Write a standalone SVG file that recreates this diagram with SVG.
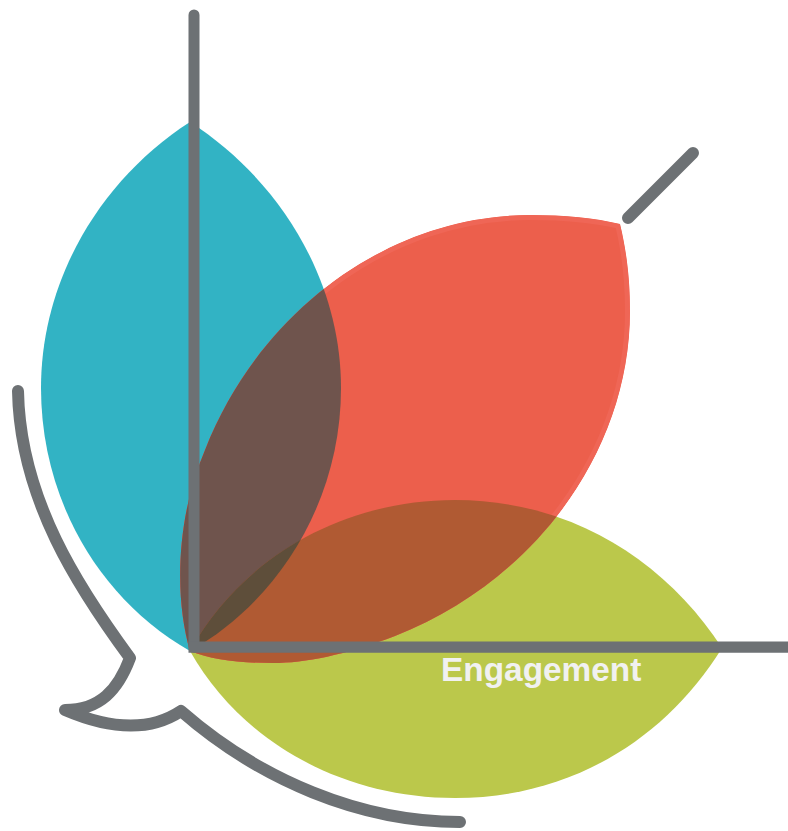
<svg xmlns="http://www.w3.org/2000/svg" width="788" height="831" viewBox="0 0 788 831">
  <style>
    .line { fill: none; stroke: #6d7174; stroke-width: 11; stroke-linecap: round; stroke-linejoin: round; }
    .thick { stroke-width: 12; }
    .label { font-family: "Liberation Sans", Arial, sans-serif; font-weight: 700; font-size: 33.4px; fill: #f1f1f1; }
  </style>
  <defs>
    <path id="p-teal" d="M190,122 C100,180 41,280 41,388 C41,500 100,600 190,651 C280,600 341,500 341,388 C341,280 280,180 190,122 Z"/>
    <path id="p-red" d="M190,651 C175,600 175,520 205,450 C260,310 390,215 530,215 C565,215 595,218 620,224 C630,265 630,300 630,311 C630,451 535,581 395,636 C345,655 305,663 273,663 C240,663 212,660 190,651 Z"/>
    <path id="p-green" d="M190,651 C240,560 340,500 455,500 C570,500 665,560 722,648 C665,740 570,798 455,798 C340,798 240,740 190,651 Z"/>
    <clipPath id="c-red"><use href="#p-red"/></clipPath>
    <clipPath id="c-teal"><use href="#p-teal"/></clipPath>
  </defs>
  <g id="petal-teal"><use href="#p-teal" fill="#32b3c4"/></g>
  <g id="petal-green"><use href="#p-green" fill="#bbc84b"/></g>
  <g id="petal-red" clip-path="url(#c-red)"><use href="#p-red" fill="#ec5f4c" stroke="#ef6656" stroke-width="10"/></g>
  <g id="overlaps">
    <g clip-path="url(#c-red)">
      <use href="#p-teal" fill="#6f544d"/>
      <use href="#p-green" fill="#b05a33"/>
      <g clip-path="url(#c-teal)"><use href="#p-green" fill="#5e4e3a"/></g>
    </g>
  </g>
  <g id="connectors">
    <path class="line thick" d="M18,391 C20,500 80,590 130,658 C118,690 100,710 65,710 C100,725 145,735 181,711 C260,780 360,822 460,822"/>
    <path class="line thick" d="M628,218 L693,153"/>
    <path class="line" d="M194,15 V647"/>
    <path d="M188.5,641.5 H788 V652.7 H188.5 Z" fill="#6d7174"/>
  </g>
  <g id="label-engagement"><text class="label" x="441" y="681">Engagement</text></g>
</svg>
